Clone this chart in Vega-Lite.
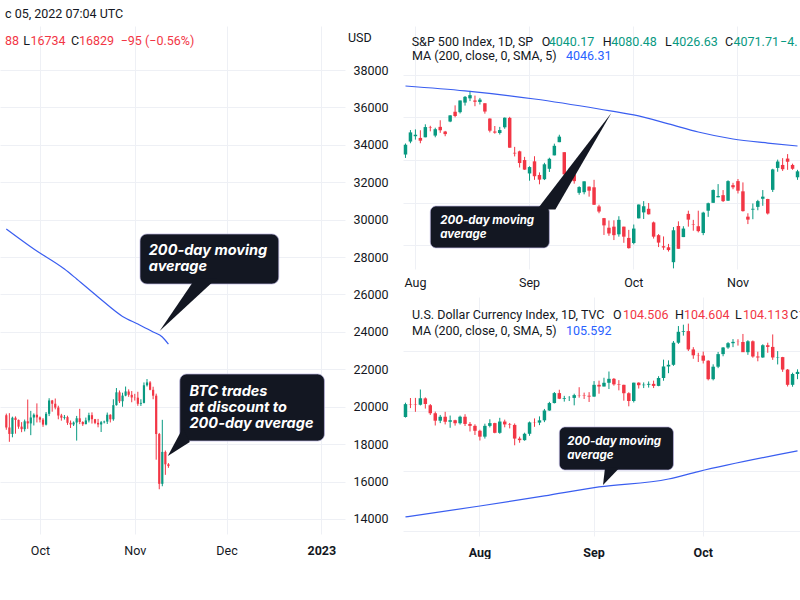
{
"$schema": "https://vega.github.io/schema/vega-lite/v6.json",
"background": "white",
"padding": {"top": 8, "left": 0, "right": 0, "bottom": 0},
"bounds": "flush",
"spacing": 58,
"config": {
  "font": "Roboto",
  "view": {"stroke": null},
  "text": {"font": "Roboto"},
  "axis": {"labelFont": "Roboto", "labelColor": "#131722", "labelFontSize": 12.5, "gridColor": "#eef0f5", "domain": false, "ticks": false}
},
"datasets": {
  "btc": [
    {"d":"2022-09-20T00:00:00","o":19545,"h":19634,"l":18770,"c":18891},
    {"d":"2022-09-21T00:00:00","o":18891,"h":19657,"l":18125,"c":18547},
    {"d":"2022-09-22T00:00:00","o":18547,"h":19471,"l":18366,"c":19413},
    {"d":"2022-09-23T00:00:00","o":19413,"h":19484,"l":18560,"c":19297},
    {"d":"2022-09-24T00:00:00","o":19297,"h":19316,"l":18822,"c":18937},
    {"d":"2022-09-25T00:00:00","o":18937,"h":19178,"l":18640,"c":18803},
    {"d":"2022-09-26T00:00:00","o":18803,"h":19315,"l":18680,"c":19222},
    {"d":"2022-09-27T00:00:00","o":19222,"h":20385,"l":18820,"c":19110},
    {"d":"2022-09-28T00:00:00","o":19110,"h":19780,"l":18480,"c":19426},
    {"d":"2022-09-29T00:00:00","o":19426,"h":19645,"l":19000,"c":19573},
    {"d":"2022-09-30T00:00:00","o":19573,"h":20180,"l":19160,"c":19431},
    {"d":"2022-10-01T00:00:00","o":19431,"h":19480,"l":19160,"c":19312},
    {"d":"2022-10-02T00:00:00","o":19312,"h":19395,"l":18925,"c":19044},
    {"d":"2022-10-03T00:00:00","o":19044,"h":19720,"l":19000,"c":19623},
    {"d":"2022-10-04T00:00:00","o":19623,"h":20456,"l":19500,"c":20336},
    {"d":"2022-10-05T00:00:00","o":20336,"h":20365,"l":19735,"c":20161},
    {"d":"2022-10-06T00:00:00","o":20161,"h":20440,"l":19860,"c":19957},
    {"d":"2022-10-07T00:00:00","o":19957,"h":20055,"l":19330,"c":19531},
    {"d":"2022-10-08T00:00:00","o":19531,"h":19620,"l":19255,"c":19417},
    {"d":"2022-10-09T00:00:00","o":19417,"h":19560,"l":19315,"c":19446},
    {"d":"2022-10-10T00:00:00","o":19446,"h":19520,"l":19030,"c":19141},
    {"d":"2022-10-11T00:00:00","o":19141,"h":19265,"l":18865,"c":19052},
    {"d":"2022-10-12T00:00:00","o":19052,"h":19215,"l":18970,"c":19157},
    {"d":"2022-10-13T00:00:00","o":19157,"h":19510,"l":18190,"c":19383},
    {"d":"2022-10-14T00:00:00","o":19383,"h":19889,"l":19070,"c":19185},
    {"d":"2022-10-15T00:00:00","o":19185,"h":19225,"l":18975,"c":19068},
    {"d":"2022-10-16T00:00:00","o":19068,"h":19420,"l":19065,"c":19268},
    {"d":"2022-10-17T00:00:00","o":19268,"h":19680,"l":19160,"c":19550},
    {"d":"2022-10-18T00:00:00","o":19550,"h":19700,"l":19100,"c":19334},
    {"d":"2022-10-19T00:00:00","o":19334,"h":19350,"l":19070,"c":19139},
    {"d":"2022-10-20T00:00:00","o":19139,"h":19350,"l":18900,"c":19053},
    {"d":"2022-10-21T00:00:00","o":19053,"h":19240,"l":18650,"c":19172},
    {"d":"2022-10-22T00:00:00","o":19172,"h":19255,"l":19110,"c":19204},
    {"d":"2022-10-23T00:00:00","o":19204,"h":19690,"l":19080,"c":19571},
    {"d":"2022-10-24T00:00:00","o":19571,"h":19600,"l":19160,"c":19330},
    {"d":"2022-10-25T00:00:00","o":19330,"h":20400,"l":19250,"c":20085},
    {"d":"2022-10-26T00:00:00","o":20085,"h":21000,"l":20060,"c":20771},
    {"d":"2022-10-27T00:00:00","o":20771,"h":20870,"l":20200,"c":20295},
    {"d":"2022-10-28T00:00:00","o":20295,"h":20750,"l":20000,"c":20595},
    {"d":"2022-10-29T00:00:00","o":20595,"h":21080,"l":20560,"c":20818},
    {"d":"2022-10-30T00:00:00","o":20818,"h":20930,"l":20530,"c":20635},
    {"d":"2022-10-31T00:00:00","o":20635,"h":20840,"l":20240,"c":20495},
    {"d":"2022-11-01T00:00:00","o":20495,"h":20690,"l":20330,"c":20485},
    {"d":"2022-11-02T00:00:00","o":20485,"h":20800,"l":20050,"c":20160},
    {"d":"2022-11-03T00:00:00","o":20160,"h":20400,"l":20040,"c":20207},
    {"d":"2022-11-04T00:00:00","o":20207,"h":21300,"l":20180,"c":21148},
    {"d":"2022-11-05T00:00:00","o":21148,"h":21480,"l":21080,"c":21300},
    {"d":"2022-11-06T00:00:00","o":21300,"h":21370,"l":20880,"c":20905},
    {"d":"2022-11-07T00:00:00","o":20905,"h":21070,"l":20400,"c":20591},
    {"d":"2022-11-08T00:00:00","o":20591,"h":20700,"l":17170,"c":18541},
    {"d":"2022-11-09T00:00:00","o":18541,"h":18600,"l":15590,"c":15880},
    {"d":"2022-11-10T00:00:00","o":15880,"h":19300,"l":15750,"c":17586},
    {"d":"2022-11-11T00:00:00","o":17586,"h":17660,"l":16360,"c":16924},
    {"d":"2022-11-12T00:00:00","o":16924,"h":16988,"l":16734,"c":16829}
  ],
  "btcma": [
    {"d":"2022-09-20T00:00:00","v":29500},
    {"d":"2022-09-29T00:00:00","v":28430},
    {"d":"2022-10-09T00:00:00","v":27360},
    {"d":"2022-10-13T00:00:00","v":26830},
    {"d":"2022-10-20T00:00:00","v":25870},
    {"d":"2022-10-28T00:00:00","v":24830},
    {"d":"2022-11-02T00:00:00","v":24420},
    {"d":"2022-11-07T00:00:00","v":24000},
    {"d":"2022-11-10T00:00:00","v":23730},
    {"d":"2022-11-12T00:00:00","v":23350}
  ],
  "spx": [
    {"d":"2022-07-28","o":4026,"h":4078,"l":4010,"c":4072},
    {"d":"2022-07-29","o":4087,"h":4141,"l":4079,"c":4130},
    {"d":"2022-08-01","o":4112,"h":4144,"l":4096,"c":4119},
    {"d":"2022-08-02","o":4104,"h":4140,"l":4079,"c":4091},
    {"d":"2022-08-03","o":4107,"h":4168,"l":4107,"c":4155},
    {"d":"2022-08-04","o":4154,"h":4161,"l":4135,"c":4152},
    {"d":"2022-08-05","o":4115,"h":4152,"l":4107,"c":4145},
    {"d":"2022-08-08","o":4156,"h":4187,"l":4128,"c":4140},
    {"d":"2022-08-09","o":4134,"h":4137,"l":4112,"c":4122},
    {"d":"2022-08-10","o":4181,"h":4211,"l":4178,"c":4210},
    {"d":"2022-08-11","o":4227,"h":4257,"l":4201,"c":4207},
    {"d":"2022-08-12","o":4225,"h":4280,"l":4219,"c":4280},
    {"d":"2022-08-15","o":4270,"h":4301,"l":4256,"c":4297},
    {"d":"2022-08-16","o":4290,"h":4325,"l":4277,"c":4305},
    {"d":"2022-08-17","o":4280,"h":4303,"l":4253,"c":4274},
    {"d":"2022-08-18","o":4273,"h":4292,"l":4261,"c":4284},
    {"d":"2022-08-19","o":4267,"h":4267,"l":4218,"c":4228},
    {"d":"2022-08-22","o":4195,"h":4196,"l":4130,"c":4138},
    {"d":"2022-08-23","o":4134,"h":4160,"l":4124,"c":4129},
    {"d":"2022-08-24","o":4127,"h":4156,"l":4120,"c":4141},
    {"d":"2022-08-25","o":4154,"h":4200,"l":4147,"c":4199},
    {"d":"2022-08-26","o":4198,"h":4203,"l":4058,"c":4058},
    {"d":"2022-08-29","o":4034,"h":4062,"l":4017,"c":4031},
    {"d":"2022-08-30","o":4041,"h":4044,"l":3965,"c":3986},
    {"d":"2022-08-31","o":4000,"h":4015,"l":3954,"c":3955},
    {"d":"2022-09-01","o":3937,"h":3971,"l":3903,"c":3967},
    {"d":"2022-09-02","o":3994,"h":4018,"l":3907,"c":3924},
    {"d":"2022-09-06","o":3930,"h":3942,"l":3886,"c":3908},
    {"d":"2022-09-07","o":3910,"h":3987,"l":3906,"c":3980},
    {"d":"2022-09-08","o":3959,"h":4011,"l":3944,"c":4006},
    {"d":"2022-09-09","o":4022,"h":4077,"l":4022,"c":4067},
    {"d":"2022-09-12","o":4084,"h":4119,"l":4084,"c":4110},
    {"d":"2022-09-13","o":4037,"h":4037,"l":3925,"c":3933},
    {"d":"2022-09-14","o":3940,"h":3961,"l":3913,"c":3946},
    {"d":"2022-09-15","o":3933,"h":3957,"l":3889,"c":3901},
    {"d":"2022-09-16","o":3846,"h":3877,"l":3837,"c":3873},
    {"d":"2022-09-19","o":3849,"h":3900,"l":3839,"c":3900},
    {"d":"2022-09-20","o":3875,"h":3876,"l":3828,"c":3856},
    {"d":"2022-09-21","o":3872,"h":3907,"l":3789,"c":3790},
    {"d":"2022-09-22","o":3782,"h":3790,"l":3750,"c":3758},
    {"d":"2022-09-23","o":3727,"h":3728,"l":3648,"c":3693},
    {"d":"2022-09-26","o":3682,"h":3716,"l":3644,"c":3655},
    {"d":"2022-09-27","o":3687,"h":3717,"l":3624,"c":3647},
    {"d":"2022-09-28","o":3651,"h":3736,"l":3640,"c":3719},
    {"d":"2022-09-29","o":3687,"h":3687,"l":3611,"c":3640},
    {"d":"2022-09-30","o":3634,"h":3672,"l":3584,"c":3586},
    {"d":"2022-10-03","o":3610,"h":3697,"l":3604,"c":3678},
    {"d":"2022-10-04","o":3726,"h":3791,"l":3726,"c":3791},
    {"d":"2022-10-05","o":3754,"h":3807,"l":3723,"c":3783},
    {"d":"2022-10-06","o":3771,"h":3798,"l":3744,"c":3745},
    {"d":"2022-10-07","o":3707,"h":3711,"l":3631,"c":3640},
    {"d":"2022-10-10","o":3647,"h":3652,"l":3591,"c":3612},
    {"d":"2022-10-11","o":3595,"h":3641,"l":3578,"c":3589},
    {"d":"2022-10-12","o":3590,"h":3606,"l":3570,"c":3577},
    {"d":"2022-10-13","o":3520,"h":3685,"l":3491,"c":3670},
    {"d":"2022-10-14","o":3690,"h":3712,"l":3583,"c":3583},
    {"d":"2022-10-17","o":3638,"h":3689,"l":3638,"c":3678},
    {"d":"2022-10-18","o":3747,"h":3762,"l":3687,"c":3720},
    {"d":"2022-10-19","o":3697,"h":3719,"l":3668,"c":3695},
    {"d":"2022-10-20","o":3689,"h":3762,"l":3660,"c":3666},
    {"d":"2022-10-21","o":3657,"h":3757,"l":3647,"c":3753},
    {"d":"2022-10-24","o":3762,"h":3800,"l":3733,"c":3797},
    {"d":"2022-10-25","o":3799,"h":3862,"l":3799,"c":3859},
    {"d":"2022-10-26","o":3825,"h":3887,"l":3825,"c":3831},
    {"d":"2022-10-27","o":3835,"h":3859,"l":3803,"c":3807},
    {"d":"2022-10-28","o":3809,"h":3905,"l":3808,"c":3901},
    {"d":"2022-10-31","o":3882,"h":3893,"l":3863,"c":3872},
    {"d":"2022-11-01","o":3901,"h":3911,"l":3843,"c":3856},
    {"d":"2022-11-02","o":3853,"h":3895,"l":3758,"c":3760},
    {"d":"2022-11-03","o":3734,"h":3750,"l":3699,"c":3720},
    {"d":"2022-11-04","o":3767,"h":3796,"l":3722,"c":3771},
    {"d":"2022-11-07","o":3780,"h":3813,"l":3764,"c":3807},
    {"d":"2022-11-08","o":3818,"h":3859,"l":3785,"c":3828},
    {"d":"2022-11-09","o":3817,"h":3818,"l":3744,"c":3749},
    {"d":"2022-11-10","o":3860,"h":3959,"l":3850,"c":3956},
    {"d":"2022-11-11","o":3963,"h":4002,"l":3945,"c":3993},
    {"d":"2022-11-14","o":3977,"h":4009,"l":3949,"c":3957},
    {"d":"2022-11-15","o":4007,"h":4028,"l":3954,"c":3992},
    {"d":"2022-11-16","o":3977,"h":3983,"l":3954,"c":3959},
    {"d":"2022-11-17","o":3919,"h":3954,"l":3907,"c":3947}
  ],
  "spxma": [
    {"d":"2022-07-28","v":4348},
    {"d":"2022-08-15","v":4325},
    {"d":"2022-09-02","v":4287},
    {"d":"2022-09-22","v":4240},
    {"d":"2022-10-03","v":4212},
    {"d":"2022-10-12","v":4170},
    {"d":"2022-10-20","v":4132},
    {"d":"2022-10-31","v":4099},
    {"d":"2022-11-09","v":4080},
    {"d":"2022-11-17","v":4066}
  ],
  "dxy": [
    {"d":"2022-07-11","o":107.00,"h":108.19,"l":106.95,"c":108.07},
    {"d":"2022-07-12","o":108.08,"h":108.58,"l":107.74,"c":108.05},
    {"d":"2022-07-13","o":108.05,"h":108.59,"l":107.43,"c":108.02},
    {"d":"2022-07-14","o":108.02,"h":109.29,"l":107.96,"c":108.56},
    {"d":"2022-07-15","o":108.55,"h":108.63,"l":107.70,"c":108.08},
    {"d":"2022-07-18","o":107.98,"h":108.08,"l":107.17,"c":107.31},
    {"d":"2022-07-19","o":107.31,"h":107.45,"l":106.29,"c":106.69},
    {"d":"2022-07-20","o":106.69,"h":107.17,"l":106.49,"c":107.02},
    {"d":"2022-07-21","o":107.02,"h":107.43,"l":106.38,"c":106.60},
    {"d":"2022-07-22","o":106.60,"h":107.12,"l":106.10,"c":106.73},
    {"d":"2022-07-25","o":106.73,"h":106.77,"l":106.28,"c":106.48},
    {"d":"2022-07-26","o":106.48,"h":107.11,"l":106.37,"c":107.02},
    {"d":"2022-07-27","o":107.02,"h":107.23,"l":106.25,"c":106.42},
    {"d":"2022-07-28","o":106.42,"h":106.58,"l":105.79,"c":106.26},
    {"d":"2022-07-29","o":106.26,"h":106.39,"l":105.50,"c":105.85},
    {"d":"2022-08-01","o":105.85,"h":105.94,"l":105.04,"c":105.36},
    {"d":"2022-08-02","o":105.36,"h":106.44,"l":105.20,"c":106.26},
    {"d":"2022-08-03","o":106.26,"h":106.81,"l":106.13,"c":106.49},
    {"d":"2022-08-04","o":106.49,"h":106.52,"l":105.64,"c":105.68},
    {"d":"2022-08-05","o":105.68,"h":106.93,"l":105.60,"c":106.62},
    {"d":"2022-08-08","o":106.62,"h":106.78,"l":106.14,"c":106.38},
    {"d":"2022-08-09","o":106.38,"h":106.50,"l":106.05,"c":106.34},
    {"d":"2022-08-10","o":106.34,"h":106.46,"l":104.64,"c":105.20},
    {"d":"2022-08-11","o":105.20,"h":105.36,"l":104.85,"c":105.07},
    {"d":"2022-08-12","o":105.07,"h":105.69,"l":105.02,"c":105.60},
    {"d":"2022-08-15","o":105.60,"h":106.62,"l":105.43,"c":106.55},
    {"d":"2022-08-16","o":106.55,"h":106.88,"l":106.18,"c":106.53},
    {"d":"2022-08-17","o":106.53,"h":107.05,"l":106.32,"c":106.72},
    {"d":"2022-08-18","o":106.72,"h":107.67,"l":106.57,"c":107.54},
    {"d":"2022-08-19","o":107.54,"h":108.26,"l":107.52,"c":108.16},
    {"d":"2022-08-22","o":108.16,"h":109.08,"l":108.13,"c":108.99},
    {"d":"2022-08-23","o":108.99,"h":109.27,"l":108.49,"c":108.52},
    {"d":"2022-08-24","o":108.52,"h":108.76,"l":108.28,"c":108.58},
    {"d":"2022-08-25","o":108.58,"h":108.74,"l":108.33,"c":108.59},
    {"d":"2022-08-26","o":108.59,"h":108.94,"l":107.97,"c":108.82},
    {"d":"2022-08-29","o":108.82,"h":109.48,"l":108.61,"c":108.80},
    {"d":"2022-08-30","o":108.80,"h":109.03,"l":108.50,"c":108.77},
    {"d":"2022-08-31","o":108.77,"h":109.07,"l":108.25,"c":108.70},
    {"d":"2022-09-01","o":108.70,"h":109.99,"l":108.68,"c":109.68},
    {"d":"2022-09-02","o":109.68,"h":110.03,"l":108.94,"c":109.54},
    {"d":"2022-09-05","o":109.54,"h":110.27,"l":109.54,"c":109.85},
    {"d":"2022-09-06","o":109.85,"h":110.79,"l":109.33,"c":110.18},
    {"d":"2022-09-07","o":110.18,"h":110.25,"l":109.61,"c":109.72},
    {"d":"2022-09-08","o":109.72,"h":110.07,"l":109.22,"c":109.68},
    {"d":"2022-09-09","o":109.68,"h":109.69,"l":108.36,"c":108.98},
    {"d":"2022-09-12","o":108.98,"h":109.06,"l":107.89,"c":108.33},
    {"d":"2022-09-13","o":108.33,"h":109.86,"l":108.21,"c":109.86},
    {"d":"2022-09-14","o":109.86,"h":109.89,"l":109.37,"c":109.65},
    {"d":"2022-09-15","o":109.65,"h":109.88,"l":109.41,"c":109.69},
    {"d":"2022-09-16","o":109.69,"h":109.96,"l":109.45,"c":109.76},
    {"d":"2022-09-19","o":109.76,"h":110.03,"l":109.41,"c":109.59},
    {"d":"2022-09-20","o":109.59,"h":110.40,"l":109.56,"c":110.25},
    {"d":"2022-09-21","o":110.25,"h":111.78,"l":110.02,"c":111.21},
    {"d":"2022-09-22","o":111.21,"h":111.72,"l":110.65,"c":111.35},
    {"d":"2022-09-23","o":111.35,"h":113.33,"l":111.26,"c":113.19},
    {"d":"2022-09-26","o":113.19,"h":114.58,"l":113.09,"c":114.10},
    {"d":"2022-09-27","o":114.10,"h":114.69,"l":113.78,"c":114.16},
    {"d":"2022-09-28","o":114.16,"h":114.78,"l":112.50,"c":112.63},
    {"d":"2022-09-29","o":112.63,"h":112.82,"l":111.85,"c":112.14},
    {"d":"2022-09-30","o":112.14,"h":112.35,"l":111.58,"c":112.12},
    {"d":"2022-10-03","o":112.12,"h":112.45,"l":111.46,"c":111.69},
    {"d":"2022-10-04","o":111.69,"h":111.73,"l":110.05,"c":110.15},
    {"d":"2022-10-05","o":110.15,"h":111.39,"l":110.05,"c":111.19},
    {"d":"2022-10-06","o":111.19,"h":112.42,"l":111.07,"c":112.24},
    {"d":"2022-10-07","o":112.24,"h":112.83,"l":112.06,"c":112.79},
    {"d":"2022-10-10","o":112.79,"h":113.24,"l":112.68,"c":113.15},
    {"d":"2022-10-11","o":113.15,"h":113.49,"l":112.82,"c":113.26},
    {"d":"2022-10-12","o":113.26,"h":113.48,"l":112.95,"c":113.25},
    {"d":"2022-10-13","o":113.25,"h":113.92,"l":112.53,"c":112.40},
    {"d":"2022-10-14","o":112.40,"h":113.40,"l":112.18,"c":113.31},
    {"d":"2022-10-17","o":113.31,"h":113.38,"l":111.94,"c":112.04},
    {"d":"2022-10-18","o":112.04,"h":112.44,"l":111.64,"c":111.96},
    {"d":"2022-10-19","o":111.96,"h":113.06,"l":111.93,"c":112.98},
    {"d":"2022-10-20","o":112.98,"h":113.19,"l":112.35,"c":112.84},
    {"d":"2022-10-21","o":112.84,"h":113.88,"l":111.76,"c":111.96},
    {"d":"2022-10-24","o":111.96,"h":112.49,"l":111.38,"c":111.99},
    {"d":"2022-10-25","o":111.99,"h":112.01,"l":110.76,"c":110.95},
    {"d":"2022-10-26","o":110.95,"h":111.00,"l":109.54,"c":109.68},
    {"d":"2022-10-27","o":109.68,"h":110.69,"l":109.52,"c":110.58},
    {"d":"2022-10-28","o":110.58,"h":110.97,"l":110.15,"c":110.76}
  ],
  "dxyma": [
    {"d":"2022-07-11","v":98.67},
    {"d":"2022-08-01","v":99.58},
    {"d":"2022-08-18","v":100.42},
    {"d":"2022-09-02","v":101.17},
    {"d":"2022-09-22","v":101.83},
    {"d":"2022-09-30","v":102.45},
    {"d":"2022-10-28","v":104.17}
  ]
},
"hconcat": [
  {
    "width": 345,
    "height": 508,
    "layer": [
      {
        "data": {"name": "btc"},
        "mark": {"type": "rule", "strokeWidth": 1},
        "encoding": {
          "x": {"field": "d", "type": "temporal", "title": null,
                "scale": {"domain": [{"year":2022,"month":9,"date":19,"hours":13,"minutes":43},{"year":2023,"month":1,"date":7,"hours":2,"minutes":12}]},
                "axis": {"values": [{"year":2022,"month":10,"date":1},{"year":2022,"month":11,"date":1},{"year":2022,"month":12,"date":1},{"year":2023,"month":1,"date":1}],
                         "labelExpr": "month(datum.value)==0 ? '2023' : timeFormat(datum.value, '%b')",
                         "labelFontWeight": {"condition": {"test": "month(datum.value)==0", "value": "bold"}, "value": "normal"},
                         "grid": true, "labelPadding": 10, "labelFlush": false, "labelOverlap": false}},
          "y": {"field": "l", "type": "quantitative", "title": null,
                "scale": {"domain": [13198, 40352], "zero": false, "nice": false},
                "axis": {"orient": "right", "values": [14000,16000,18000,20000,22000,24000,26000,28000,30000,32000,34000,36000,38000], "format": "d", "grid": true, "labelPadding": 8, "labelAlign": "left"}},
          "y2": {"field": "h"},
          "color": {"condition": {"test": "datum.c >= datum.o", "value": "#089981"}, "value": "#f23645"}
        }
      },
      {
        "data": {"name": "btc"},
        "mark": {"type": "bar", "width": 2.2},
        "encoding": {
          "x": {"field": "d", "type": "temporal", "title": null},
          "y": {"field": "o", "type": "quantitative", "title": null},
          "y2": {"field": "c"},
          "color": {"condition": {"test": "datum.c >= datum.o", "value": "#089981"}, "value": "#f23645"}
        }
      },
      {
        "data": {"name": "btcma"},
        "mark": {"type": "line", "color": "#3a5ef0", "strokeWidth": 1.2, "interpolate": "monotone"},
        "encoding": {
          "x": {"field": "d", "type": "temporal", "title": null},
          "y": {"field": "v", "type": "quantitative", "title": null}
        }
      },
      {
        "data": {"values": [{}]},
        "mark": {"type": "rect", "cornerRadius": 7, "fill": "#131722", "stroke": "#b9b4e0", "strokeWidth": 1, "strokeOpacity": 0.7},
        "encoding": {
          "x": {"datum": {"year":2022,"month":11,"date":2,"hours":17}, "type": "temporal"},
          "x2": {"datum": {"year":2022,"month":12,"date":18,"hours":2}},
          "y": {"datum": 29234, "type": "quantitative"},
          "y2": {"datum": 26561}
        }
      },
      {
        "data": {"values": [{}]},
        "mark": {"type": "point", "shape": "M0.25,-1L0.98,-1L-0.98,0.81Z", "size": 3364, "filled": true, "color": "#131722", "opacity": 1, "strokeWidth": 0},
        "encoding": {
          "x": {"datum": {"year":2022,"month":11,"date":18,"hours":10}, "type": "temporal"},
          "y": {"datum": 25305, "type": "quantitative"}
        }
      },
      {
        "data": {"values": [{}]},
        "mark": {"type": "text", "font": "Inter", "text": "200-day moving\naverage", "lineBreak": "\n", "lineHeight": 16, "align": "left", "baseline": "alphabetic", "fontSize": 14.5, "fontWeight": "bold", "fontStyle": "italic", "color": "white"},
        "encoding": {
          "x": {"datum": {"year":2022,"month":11,"date":5,"hours":13,"minutes":30}, "type": "temporal"},
          "y": {"datum": 28085, "type": "quantitative"}
        }
      },
      {
        "data": {"values": [{}]},
        "mark": {"type": "rect", "cornerRadius": 7, "fill": "#131722", "stroke": "#b9b4e0", "strokeWidth": 1, "strokeOpacity": 0.7},
        "encoding": {
          "x": {"datum": {"year":2022,"month":11,"date":15,"hours":17}, "type": "temporal"},
          "x2": {"datum": {"year":2023,"month":1,"date":2}},
          "y": {"datum": 21750, "type": "quantitative"},
          "y2": {"datum": 18169}
        }
      },
      {
        "data": {"values": [{}]},
        "mark": {"type": "point", "shape": "M0.39,-1L0.89,0L-0.68,1Z", "size": 784, "filled": true, "color": "#131722", "opacity": 1, "strokeWidth": 0},
        "encoding": {
          "x": {"datum": {"year":2022,"month":11,"date":14,"hours":22}, "type": "temporal"},
          "y": {"datum": 18115, "type": "quantitative"}
        }
      },
      {
        "data": {"values": [{}]},
        "mark": {"type": "text", "font": "Inter", "text": "BTC trades\nat discount to\n200-day average", "lineBreak": "\n", "lineHeight": 16, "align": "left", "baseline": "alphabetic", "fontSize": 14.5, "fontWeight": "bold", "fontStyle": "italic", "color": "white"},
        "encoding": {
          "x": {"datum": {"year":2022,"month":11,"date":18,"hours":21}, "type": "temporal"},
          "y": {"datum": 20574, "type": "quantitative"}
        }
      },
      {
        "data": {"values": [{}]},
        "mark": {"type": "text", "text": "c 05, 2022 07:04 UTC", "align": "left", "baseline": "middle", "fontSize": 12.5, "color": "#131722"},
        "encoding": {
          "x": {"datum": {"year":2022,"month":9,"date":19,"hours":13,"minutes":43}, "type": "temporal"},
          "y": {"datum": 40993, "type": "quantitative"}
        }
      },
      {
        "data": {"values": [{}]},
        "mark": {"type": "text", "text": "USD", "align": "left", "baseline": "middle", "fontSize": 12.5, "dx": 8, "color": "#131722"},
        "encoding": {
          "x": {"datum": {"year":2023,"month":1,"date":7,"hours":2,"minutes":12}, "type": "temporal"},
          "y": {"datum": 39710, "type": "quantitative"}
        }
      },
      {
        "data": {"values": [{}]},
        "mark": {"type": "text", "text": "88", "align": "left", "baseline": "middle", "fontSize": 12.5, "dx": 0, "color": "#f23645"},
        "encoding": {"x": {"datum": {"year":2022,"month":9,"date":19,"hours":13,"minutes":43}, "type": "temporal"}, "y": {"datum": 39550, "type": "quantitative"}}
      },
      {
        "data": {"values": [{}]},
        "mark": {"type": "text", "text": "L", "align": "left", "baseline": "middle", "fontSize": 12.5, "dx": 18.3, "color": "#131722"},
        "encoding": {"x": {"datum": {"year":2022,"month":9,"date":19,"hours":13,"minutes":43}, "type": "temporal"}, "y": {"datum": 39550, "type": "quantitative"}}
      },
      {
        "data": {"values": [{}]},
        "mark": {"type": "text", "text": "16734", "align": "left", "baseline": "middle", "fontSize": 12.5, "dx": 25.5, "color": "#f23645"},
        "encoding": {"x": {"datum": {"year":2022,"month":9,"date":19,"hours":13,"minutes":43}, "type": "temporal"}, "y": {"datum": 39550, "type": "quantitative"}}
      },
      {
        "data": {"values": [{}]},
        "mark": {"type": "text", "text": "C", "align": "left", "baseline": "middle", "fontSize": 12.5, "dx": 66, "color": "#131722"},
        "encoding": {"x": {"datum": {"year":2022,"month":9,"date":19,"hours":13,"minutes":43}, "type": "temporal"}, "y": {"datum": 39550, "type": "quantitative"}}
      },
      {
        "data": {"values": [{}]},
        "mark": {"type": "text", "text": "16829", "align": "left", "baseline": "middle", "fontSize": 12.5, "dx": 74, "color": "#f23645"},
        "encoding": {"x": {"datum": {"year":2022,"month":9,"date":19,"hours":13,"minutes":43}, "type": "temporal"}, "y": {"datum": 39550, "type": "quantitative"}}
      },
      {
        "data": {"values": [{}]},
        "mark": {"type": "text", "text": "−95 (−0.56%)", "align": "left", "baseline": "middle", "fontSize": 12.5, "dx": 115.7, "color": "#f23645"},
        "encoding": {"x": {"datum": {"year":2022,"month":9,"date":19,"hours":13,"minutes":43}, "type": "temporal"}, "y": {"datum": 39550, "type": "quantitative"}}
      }
    ]
  },
  {
    "bounds": "flush",
    "spacing": 28,
    "vconcat": [
      {
        "width": 397,
        "height": 243,
        "layer": [
          {
            "data": {"name": "spx"},
            "mark": {"type": "rule", "strokeWidth": 1},
            "encoding": {
              "x": {"field": "d", "type": "ordinal", "title": null,
                    "scale": {"paddingInner": 0.3, "paddingOuter": 0.15},
                    "axis": {"labelExpr": "datum.value=='2022-08-01' ? 'Aug' : datum.value=='2022-09-01' ? 'Sep' : datum.value=='2022-10-03' ? 'Oct' : datum.value=='2022-11-01' ? 'Nov' : ''",
                             "labelAngle": 0, "labelPadding": 7, "labelOverlap": false, "grid": true, "bandPosition": 0.5,
                             "gridOpacity": {"condition": {"test": "indexof(['2022-08-01','2022-09-01','2022-10-03','2022-11-01'], datum.value) >= 0", "value": 1}, "value": 0}}},
              "y": {"field": "l", "type": "quantitative", "title": null,
                    "scale": {"domain": [3488, 4630], "zero": false, "nice": false},
                    "axis": {"orient": "right", "values": [3600,3800,4000,4200,4400], "labels": false, "grid": true}},
              "y2": {"field": "h"},
              "color": {"condition": {"test": "datum.c >= datum.o", "value": "#089981"}, "value": "#f23645"}
            }
          },
          {
            "data": {"name": "spx"},
            "mark": {"type": "bar"},
            "encoding": {
              "x": {"field": "d", "type": "ordinal", "title": null},
              "y": {"field": "o", "type": "quantitative", "title": null},
              "y2": {"field": "c"},
              "color": {"condition": {"test": "datum.c >= datum.o", "value": "#089981"}, "value": "#f23645"}
            }
          },
          {
            "data": {"name": "spxma"},
            "mark": {"type": "line", "color": "#3a5ef0", "strokeWidth": 1.2, "interpolate": "monotone"},
            "encoding": {
              "x": {"field": "d", "type": "ordinal", "title": null},
              "y": {"field": "v", "type": "quantitative", "title": null}
            }
          },
          {
            "data": {"values": [{}]},
            "mark": {"type": "rect", "cornerRadius": 6, "fill": "#131722", "stroke": "#b9b4e0", "strokeWidth": 1, "strokeOpacity": 0.7},
            "encoding": {
              "x": {"datum": "2022-08-04", "type": "ordinal"},
              "x2": {"datum": "2022-09-08"},
              "y": {"datum": 3784, "type": "quantitative"},
              "y2": {"datum": 3587}
            }
          },
          {
            "data": {"values": [{}]},
            "mark": {"type": "point", "shape": "M-0.79,1.05L-0.4,1.05L0.79,-1Z", "size": 8836, "filled": true, "color": "#131722", "opacity": 1, "strokeWidth": 0},
            "encoding": {
              "x": {"datum": "2022-09-15", "type": "ordinal"},
              "y": {"datum": 4000, "type": "quantitative"}
            }
          },
          {
            "data": {"values": [{}]},
            "mark": {"type": "text", "font": "Inter", "text": "200-day moving\naverage", "lineBreak": "\n", "lineHeight": 14, "align": "left", "baseline": "alphabetic", "fontSize": 11.5, "fontWeight": "bold", "fontStyle": "italic", "color": "white"},
            "encoding": {
              "x": {"datum": "2022-08-08", "type": "ordinal"},
              "y": {"datum": 3699, "type": "quantitative"}
            }
          },
          {"data": {"values": [{}]}, "mark": {"type": "text", "clip": true, "text": "S&P 500 Index, 1D, SP", "align": "left", "baseline": "middle", "fontSize": 12.5, "dx": 6.2, "color": "#131722"}, "encoding": {"x": {"datum": "2022-07-28", "type": "ordinal"}, "y": {"datum": 4555, "type": "quantitative"}}},
          {"data": {"values": [{}]}, "mark": {"type": "text", "clip": true, "text": "O", "align": "left", "baseline": "middle", "fontSize": 12.5, "dx": 136.2, "color": "#131722"}, "encoding": {"x": {"datum": "2022-07-28", "type": "ordinal"}, "y": {"datum": 4555, "type": "quantitative"}}},
          {"data": {"values": [{}]}, "mark": {"type": "text", "clip": true, "text": "4040.17", "align": "left", "baseline": "middle", "fontSize": 12.5, "dx": 143.3, "color": "#089981"}, "encoding": {"x": {"datum": "2022-07-28", "type": "ordinal"}, "y": {"datum": 4555, "type": "quantitative"}}},
          {"data": {"values": [{}]}, "mark": {"type": "text", "clip": true, "text": "H", "align": "left", "baseline": "middle", "fontSize": 12.5, "dx": 197.2, "color": "#131722"}, "encoding": {"x": {"datum": "2022-07-28", "type": "ordinal"}, "y": {"datum": 4555, "type": "quantitative"}}},
          {"data": {"values": [{}]}, "mark": {"type": "text", "clip": true, "text": "4080.48", "align": "left", "baseline": "middle", "fontSize": 12.5, "dx": 205.8, "color": "#089981"}, "encoding": {"x": {"datum": "2022-07-28", "type": "ordinal"}, "y": {"datum": 4555, "type": "quantitative"}}},
          {"data": {"values": [{}]}, "mark": {"type": "text", "clip": true, "text": "L", "align": "left", "baseline": "middle", "fontSize": 12.5, "dx": 259.5, "color": "#131722"}, "encoding": {"x": {"datum": "2022-07-28", "type": "ordinal"}, "y": {"datum": 4555, "type": "quantitative"}}},
          {"data": {"values": [{}]}, "mark": {"type": "text", "clip": true, "text": "4026.63", "align": "left", "baseline": "middle", "fontSize": 12.5, "dx": 266.8, "color": "#089981"}, "encoding": {"x": {"datum": "2022-07-28", "type": "ordinal"}, "y": {"datum": 4555, "type": "quantitative"}}},
          {"data": {"values": [{}]}, "mark": {"type": "text", "clip": true, "text": "C", "align": "left", "baseline": "middle", "fontSize": 12.5, "dx": 319.5, "color": "#131722"}, "encoding": {"x": {"datum": "2022-07-28", "type": "ordinal"}, "y": {"datum": 4555, "type": "quantitative"}}},
          {"data": {"values": [{}]}, "mark": {"type": "text", "clip": true, "text": "4071.71", "align": "left", "baseline": "middle", "fontSize": 12.5, "dx": 328, "color": "#089981"}, "encoding": {"x": {"datum": "2022-07-28", "type": "ordinal"}, "y": {"datum": 4555, "type": "quantitative"}}},
          {"data": {"values": [{}]}, "mark": {"type": "text", "clip": true, "text": "−4.", "align": "left", "baseline": "middle", "fontSize": 12.5, "dx": 374.5, "color": "#089981"}, "encoding": {"x": {"datum": "2022-07-28", "type": "ordinal"}, "y": {"datum": 4555, "type": "quantitative"}}},
          {"data": {"values": [{}]}, "mark": {"type": "text", "clip": true, "text": "MA (200, close, 0, SMA, 5)", "align": "left", "baseline": "middle", "fontSize": 12.5, "dx": 6.5, "color": "#131722"}, "encoding": {"x": {"datum": "2022-07-28", "type": "ordinal"}, "y": {"datum": 4489, "type": "quantitative"}}},
          {"data": {"values": [{}]}, "mark": {"type": "text", "clip": true, "text": "4046.31", "align": "left", "baseline": "middle", "fontSize": 12.5, "dx": 160.5, "color": "#2962ff"}, "encoding": {"x": {"datum": "2022-07-28", "type": "ordinal"}, "y": {"datum": 4489, "type": "quantitative"}}}
        ]
      },
      {
        "width": 397,
        "height": 239,
        "layer": [
          {
            "data": {"name": "dxy"},
            "mark": {"type": "rule", "strokeWidth": 1},
            "encoding": {
              "x": {"field": "d", "type": "ordinal", "title": null,
                    "scale": {"paddingInner": 0.3, "paddingOuter": 0.15},
                    "axis": {"labelExpr": "datum.value=='2022-08-01' ? 'Aug' : datum.value=='2022-09-01' ? 'Sep' : datum.value=='2022-10-03' ? 'Oct' : ''",
                             "labelAngle": 0, "labelPadding": 10, "labelOverlap": false, "labelFontWeight": "bold", "grid": true, "bandPosition": 0.5,
                             "gridOpacity": {"condition": {"test": "indexof(['2022-08-01','2022-09-01','2022-10-03'], datum.value) >= 0", "value": 1}, "value": 0}}},
              "y": {"field": "l", "type": "quantitative", "title": null,
                    "scale": {"domain": [97.08, 117.0], "zero": false, "nice": false},
                    "axis": {"orient": "right", "values": [97.5,100,102.5,105,107.5,110,112.5,115], "labels": false, "grid": true}},
              "y2": {"field": "h"},
              "color": {"condition": {"test": "datum.c >= datum.o", "value": "#089981"}, "value": "#f23645"}
            }
          },
          {
            "data": {"name": "dxy"},
            "mark": {"type": "bar"},
            "encoding": {
              "x": {"field": "d", "type": "ordinal", "title": null},
              "y": {"field": "o", "type": "quantitative", "title": null},
              "y2": {"field": "c"},
              "color": {"condition": {"test": "datum.c >= datum.o", "value": "#089981"}, "value": "#f23645"}
            }
          },
          {
            "data": {"name": "dxyma"},
            "mark": {"type": "line", "color": "#3a5ef0", "strokeWidth": 1.2, "interpolate": "monotone"},
            "encoding": {
              "x": {"field": "d", "type": "ordinal", "title": null},
              "y": {"field": "v", "type": "quantitative", "title": null}
            }
          },
          {
            "data": {"values": [{}]},
            "mark": {"type": "rect", "cornerRadius": 6, "fill": "#131722", "stroke": "#b9b4e0", "strokeWidth": 1, "strokeOpacity": 0.7},
            "encoding": {
              "x": {"datum": "2022-08-23", "type": "ordinal"},
              "x2": {"datum": "2022-09-23"},
              "y": {"datum": 106.17, "type": "quantitative"},
              "y2": {"datum": 102.58}
            }
          },
          {
            "data": {"values": [{}]},
            "mark": {"type": "point", "shape": "M-1.04,-1.2L0.72,-1.2L-1.28,0.88Z", "size": 289, "filled": true, "color": "#131722", "opacity": 1, "strokeWidth": 0},
            "encoding": {
              "x": {"datum": "2022-09-07", "type": "ordinal"},
              "y": {"datum": 101.96, "type": "quantitative"}
            }
          },
          {
            "data": {"values": [{}]},
            "mark": {"type": "text", "font": "Inter", "text": "200-day moving\naverage", "lineBreak": "\n", "lineHeight": 14, "align": "left", "baseline": "alphabetic", "fontSize": 11.5, "fontWeight": "bold", "fontStyle": "italic", "color": "white", "dx": -2},
            "encoding": {
              "x": {"datum": "2022-08-25", "type": "ordinal"},
              "y": {"datum": 104.66, "type": "quantitative"}
            }
          },
          {"data": {"values": [{}]}, "mark": {"type": "text", "clip": true, "text": "U.S. Dollar Currency Index, 1D, TVC", "align": "left", "baseline": "middle", "fontSize": 12.5, "dx": 6.5, "color": "#131722"}, "encoding": {"x": {"datum": "2022-07-11", "type": "ordinal"}, "y": {"datum": 115.5, "type": "quantitative"}}},
          {"data": {"values": [{}]}, "mark": {"type": "text", "clip": true, "text": "O", "align": "left", "baseline": "middle", "fontSize": 12.5, "dx": 207.5, "color": "#131722"}, "encoding": {"x": {"datum": "2022-07-11", "type": "ordinal"}, "y": {"datum": 115.5, "type": "quantitative"}}},
          {"data": {"values": [{}]}, "mark": {"type": "text", "clip": true, "text": "104.506", "align": "left", "baseline": "middle", "fontSize": 12.5, "dx": 217.5, "color": "#f23645"}, "encoding": {"x": {"datum": "2022-07-11", "type": "ordinal"}, "y": {"datum": 115.5, "type": "quantitative"}}},
          {"data": {"values": [{}]}, "mark": {"type": "text", "clip": true, "text": "H", "align": "left", "baseline": "middle", "fontSize": 12.5, "dx": 269.5, "color": "#131722"}, "encoding": {"x": {"datum": "2022-07-11", "type": "ordinal"}, "y": {"datum": 115.5, "type": "quantitative"}}},
          {"data": {"values": [{}]}, "mark": {"type": "text", "clip": true, "text": "104.604", "align": "left", "baseline": "middle", "fontSize": 12.5, "dx": 278.5, "color": "#f23645"}, "encoding": {"x": {"datum": "2022-07-11", "type": "ordinal"}, "y": {"datum": 115.5, "type": "quantitative"}}},
          {"data": {"values": [{}]}, "mark": {"type": "text", "clip": true, "text": "L", "align": "left", "baseline": "middle", "fontSize": 12.5, "dx": 329.5, "color": "#131722"}, "encoding": {"x": {"datum": "2022-07-11", "type": "ordinal"}, "y": {"datum": 115.5, "type": "quantitative"}}},
          {"data": {"values": [{}]}, "mark": {"type": "text", "clip": true, "text": "104.113", "align": "left", "baseline": "middle", "fontSize": 12.5, "dx": 337.5, "color": "#f23645"}, "encoding": {"x": {"datum": "2022-07-11", "type": "ordinal"}, "y": {"datum": 115.5, "type": "quantitative"}}},
          {"data": {"values": [{}]}, "mark": {"type": "text", "clip": true, "text": "C", "align": "left", "baseline": "middle", "fontSize": 12.5, "dx": 384.5, "color": "#131722"}, "encoding": {"x": {"datum": "2022-07-11", "type": "ordinal"}, "y": {"datum": 115.5, "type": "quantitative"}}},
          {"data": {"values": [{}]}, "mark": {"type": "text", "clip": true, "text": "1", "align": "left", "baseline": "middle", "fontSize": 12.5, "dx": 393, "color": "#f23645"}, "encoding": {"x": {"datum": "2022-07-11", "type": "ordinal"}, "y": {"datum": 115.5, "type": "quantitative"}}},
          {"data": {"values": [{}]}, "mark": {"type": "text", "clip": true, "text": "MA (200, close, 0, SMA, 5)", "align": "left", "baseline": "middle", "fontSize": 12.5, "dx": 6.5, "color": "#131722"}, "encoding": {"x": {"datum": "2022-07-11", "type": "ordinal"}, "y": {"datum": 114.17, "type": "quantitative"}}},
          {"data": {"values": [{}]}, "mark": {"type": "text", "clip": true, "text": "105.592", "align": "left", "baseline": "middle", "fontSize": 12.5, "dx": 160.5, "color": "#2962ff"}, "encoding": {"x": {"datum": "2022-07-11", "type": "ordinal"}, "y": {"datum": 114.17, "type": "quantitative"}}}
        ]
      }
    ]
  }
]
}
